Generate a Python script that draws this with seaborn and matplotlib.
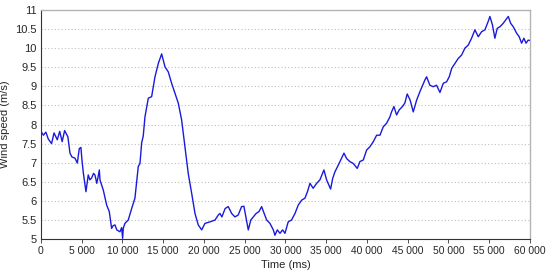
import numpy as np
import pandas as pd
import matplotlib
matplotlib.use("Agg")
import matplotlib.pyplot as plt
import matplotlib.ticker as mticker
import seaborn as sns

# valores (tempo em ms, velocidade em m/s)
time_ms = [
    0, 300, 600, 900, 1300, 1600, 2000, 2300, 2600, 2900, 3300, 3560, 3800, 4170,
    4460, 4700, 4900, 5030, 5200, 5520, 5800, 6000, 6220, 6450, 6620, 6850, 7000,
    7160, 7240, 7650, 8060, 8380, 8670, 8850, 9080, 9300, 9690, 9900, 10020, 10100,
    10300, 10710, 11130, 11530, 11740, 11940, 12150, 12350, 12550, 12760, 13170,
    13580, 13990, 14400, 14810, 15220, 15620, 16030, 16440, 16850, 17260, 17670,
    18070, 18490, 18900, 19300, 19720, 20120, 20740, 21360, 21760, 21960, 22200,
    22600, 22980, 23400, 23800, 24200, 24620, 24900, 25150, 25440, 25750, 26050,
    26400, 26750, 27080, 27300, 27690, 28100, 28510, 28710, 29000, 29330, 29650,
    29940, 30340, 30750, 31170, 31570, 31990, 32390, 32700, 33010, 33400, 33830,
    34230, 34720, 35050, 35540, 35800, 36070, 36400, 36690, 37180, 37500, 37900,
    38320, 38810, 39140, 39550, 39960, 40370, 40780, 41190, 41600, 42000, 42400,
    42820, 43020, 43310, 43640, 43950, 44350, 44650, 44940, 45300, 45680, 46100,
    46500, 47120, 47320, 47720, 48130, 48540, 48960, 49370, 49780, 50100, 50400,
    50800, 51200, 51620, 52020, 52430, 52840, 53250, 53660, 54070, 54480, 54880,
    55090, 55400, 55700, 55990, 56310, 56720, 57030, 57340, 57640, 57960, 58370,
    58680, 58980, 59260, 59520, 59790, 60000,
]
wind_speed = [
    7.82, 7.72, 7.80, 7.62, 7.50, 7.78, 7.60, 7.82, 7.55, 7.84, 7.68, 7.25, 7.15, 7.12,
    6.99, 7.37, 7.40, 7.07, 6.73, 6.24, 6.68, 6.55, 6.60, 6.72, 6.68, 6.46, 6.62,
    6.81, 6.55, 6.28, 5.89, 5.72, 5.28, 5.35, 5.37, 5.24, 5.19, 5.30, 5.02, 5.28,
    5.41, 5.50, 5.80, 6.07, 6.50, 6.90, 6.98, 7.51, 7.70, 8.20, 8.69,
    8.73, 9.25, 9.60, 9.85, 9.51, 9.38, 9.08, 8.82, 8.56, 8.12, 7.42,
    6.72, 6.20, 5.67, 5.37, 5.24, 5.41, 5.45, 5.50, 5.63, 5.67, 5.58,
    5.80, 5.85, 5.67, 5.58, 5.63, 5.85, 5.86, 5.58, 5.24, 5.50, 5.58,
    5.67, 5.72, 5.85, 5.72, 5.50, 5.41, 5.24, 5.10, 5.24, 5.15, 5.24,
    5.15, 5.45, 5.50, 5.67, 5.89, 6.02, 6.07, 6.24, 6.46, 6.33, 6.46,
    6.55, 6.81, 6.55, 6.31, 6.59, 6.76, 6.90, 7.03, 7.25, 7.11, 7.03,
    6.98, 6.85, 7.03, 7.07, 7.33, 7.42, 7.55, 7.72, 7.72, 7.94, 8.03,
    8.20, 8.33, 8.47, 8.25, 8.38, 8.47, 8.56, 8.80, 8.64, 8.33, 8.64,
    8.86, 9.17, 9.25, 9.03, 8.99, 9.03, 8.84, 9.08, 9.12, 9.25, 9.47,
    9.60, 9.73, 9.82, 10.00, 10.08, 10.26, 10.48, 10.30, 10.43, 10.48, 10.70,
    10.83, 10.61, 10.26, 10.52, 10.56, 10.65, 10.74, 10.83, 10.65, 10.56, 10.39,
    10.30, 10.13, 10.26, 10.13, 10.21, 10.20,
]

df = pd.DataFrame({"t": time_ms, "v": wind_speed})

sns.set_style("white")
plt.rcParams["font.family"] = ["Liberation Sans", "DejaVu Sans"]

fig = plt.figure(figsize=(5.5, 2.77), dpi=100)
ax = fig.add_axes([0.0745, 0.137, 0.889, 0.827])

sns.lineplot(data=df, x="t", y="v", ax=ax, color="#1a1adc", linewidth=1.0)

ax.set_xlim(0, 60000)
ax.set_ylim(5, 11)
ax.xaxis.set_major_locator(mticker.MultipleLocator(5000))
ax.xaxis.set_minor_locator(mticker.MultipleLocator(1000))
ax.xaxis.set_major_formatter(mticker.FuncFormatter(
    lambda x, p: f"{int(x):,}".replace(",", " ")))
ax.yaxis.set_major_locator(mticker.MultipleLocator(0.5))
ax.yaxis.set_major_formatter(mticker.FuncFormatter(lambda y, p: f"{y:g}"))

ax.grid(axis="y", color="#c0c0c0", linestyle=(0, (1, 2)), linewidth=0.8)
ax.grid(axis="x", visible=False)

for s in ["top", "right"]:
    ax.spines[s].set_color("#b4b4b4")
    ax.spines[s].set_linewidth(1.0)
for s in ["left", "bottom"]:
    ax.spines[s].set_color("#333333")
    ax.spines[s].set_linewidth(0.8)

ax.tick_params(axis="x", which="major", length=3, width=0.6, labelsize=7.4, pad=2, color="#333333")
ax.tick_params(axis="x", which="minor", length=2, width=0.5, color="#333333")
ax.tick_params(axis="y", length=0, labelsize=8, pad=3)
ax.tick_params(axis="x", bottom=True)

ax.set_xlabel("Time (ms)", fontsize=8, labelpad=3)
ax.set_ylabel("Wind speed (m/s)", fontsize=8, labelpad=4)

fig.savefig("out.png", dpi=100)
